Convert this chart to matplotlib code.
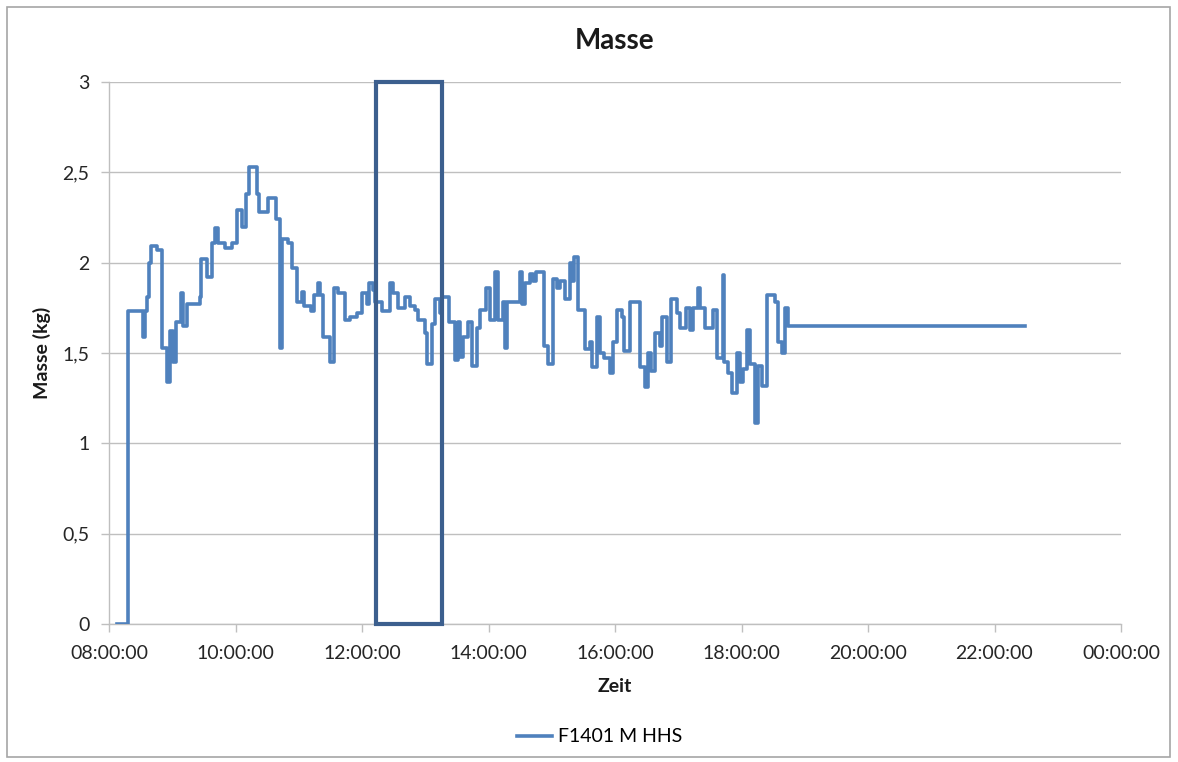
import matplotlib
matplotlib.use("Agg")
import matplotlib.pyplot as plt
from matplotlib.patches import Rectangle
from matplotlib.ticker import FixedLocator, FuncFormatter

plt.rcParams['font.family'] = ['Lato', 'DejaVu Sans']

# Step changes of the logged mass: time (HH:MM) and value (kg) from that time on
times = ["08:08", "08:18", "08:32", "08:34", "08:36", "08:38", "08:40", "08:46",
         "08:50", "08:55", "08:58", "09:01", "09:04", "09:08", "09:10", "09:14",
         "09:26", "09:27", "09:33", "09:38", "09:41", "09:43", "09:50", "09:57",
         "10:01", "10:06", "10:10", "10:13", "10:20", "10:22", "10:31", "10:38",
         "10:42", "10:44", "10:50", "10:54", "10:58", "11:03", "11:05", "11:12",
         "11:14", "11:18", "11:20", "11:23", "11:30", "11:33", "11:37", "11:44",
         "11:49", "11:55", "12:00", "12:05", "12:07", "12:10", "12:12", "12:19",
         "12:27", "12:29", "12:34", "12:41", "12:46", "12:50", "12:53", "13:00",
         "13:02", "13:06", "13:09", "13:14", "13:16", "13:23", "13:28", "13:31",
         "13:33", "13:36", "13:41", "13:44", "13:49", "13:52", "13:58", "14:01",
         "14:06", "14:09", "14:14", "14:16", "14:18", "14:30", "14:32", "14:35",
         "14:39", "14:42", "14:45", "14:53", "14:56", "15:01", "15:05", "15:08",
         "15:13", "15:17", "15:19", "15:21", "15:25", "15:32", "15:36", "15:38",
         "15:43", "15:46", "15:50", "15:55", "15:58", "16:02", "16:07", "16:09",
         "16:14", "16:24", "16:28", "16:31", "16:34", "16:38", "16:43", "16:45",
         "16:49", "16:53", "16:59", "17:02", "17:07", "17:11", "17:14", "17:19",
         "17:21", "17:25", "17:33", "17:37", "17:42", "17:43", "17:47", "17:51",
         "17:56", "17:59", "18:01", "18:05", "18:08", "18:13", "18:16", "18:19",
         "18:24", "18:32", "18:35", "18:38", "18:41", "18:44", "22:29"]
masse = [0.00, 1.73, 1.59, 1.73, 1.81, 2.00, 2.09, 2.07,
         1.53, 1.34, 1.62, 1.45, 1.67, 1.83, 1.65, 1.77,
         1.81, 2.02, 1.92, 2.11, 2.19, 2.11, 2.08, 2.11,
         2.29, 2.20, 2.38, 2.53, 2.38, 2.28, 2.36, 2.24,
         1.53, 2.13, 2.11, 1.97, 1.78, 1.84, 1.76, 1.73,
         1.82, 1.89, 1.82, 1.59, 1.45, 1.86, 1.83, 1.68,
         1.70, 1.72, 1.83, 1.77, 1.89, 1.85, 1.78, 1.73,
         1.89, 1.83, 1.75, 1.81, 1.76, 1.74, 1.68, 1.61,
         1.44, 1.66, 1.80, 1.72, 1.81, 1.67, 1.46, 1.67,
         1.48, 1.59, 1.67, 1.43, 1.64, 1.74, 1.86, 1.68,
         1.95, 1.68, 1.78, 1.53, 1.78, 1.95, 1.77, 1.89,
         1.94, 1.90, 1.95, 1.54, 1.44, 1.91, 1.86, 1.90,
         1.80, 2.00, 1.90, 2.03, 1.74, 1.52, 1.56, 1.42,
         1.70, 1.50, 1.47, 1.39, 1.56, 1.74, 1.70, 1.51,
         1.78, 1.42, 1.31, 1.50, 1.40, 1.61, 1.54, 1.70,
         1.45, 1.80, 1.72, 1.64, 1.75, 1.63, 1.75, 1.86,
         1.75, 1.64, 1.74, 1.47, 1.93, 1.45, 1.39, 1.28,
         1.50, 1.34, 1.41, 1.63, 1.44, 1.11, 1.43, 1.32,
         1.82, 1.78, 1.56, 1.50, 1.75, 1.65, 1.65]

series_label = "F1401 M HHS"
window_start, window_end = "12:13", "13:16"
x_ticks = [8, 10, 12, 14, 16, 18, 20, 22, 24]
y_ticks = [0, 0.5, 1, 1.5, 2, 2.5, 3]


def to_hours(t):
    h, m = t.split(":")
    return int(h) + int(m) / 60.0


hours = [to_hours(t) for t in times]

fig = plt.figure(figsize=(11.78, 7.62), dpi=100)
ax = fig.add_axes([109 / 1178, 1 - 624 / 762, (1121 - 109) / 1178, (624 - 82) / 762])

line_color = "#4F81BD"
ax.step(hours, masse, where="post", color=line_color, lw=2.6, label=series_label,
        zorder=3)

# highlighted time window
ws, we = to_hours(window_start), to_hours(window_end)
ax.add_patch(Rectangle((ws, 0), we - ws, 3, fill=False, edgecolor="#3C5F8E",
                       lw=3.0, zorder=4, clip_on=False))

ax.set_xlim(8, 24)
ax.set_ylim(0, 3)
ax.xaxis.set_major_locator(FixedLocator(x_ticks))
ax.xaxis.set_major_formatter(FuncFormatter(lambda v, p: f"{int(v) % 24:02d}:00:00"))
ax.yaxis.set_major_locator(FixedLocator(y_ticks))
ax.yaxis.set_major_formatter(FuncFormatter(lambda v, p: f"{v:g}".replace(".", ",")))

ax.grid(axis="y", color="#BFBFBF", lw=1.0)
ax.set_axisbelow(True)
for s in ["top", "right"]:
    ax.spines[s].set_visible(False)
for s in ["left", "bottom"]:
    ax.spines[s].set_color("#BFBFBF")
    ax.spines[s].set_linewidth(1.0)
ax.tick_params(axis="both", colors="#BFBFBF", length=6, width=1.0,
               labelcolor="#262626", labelsize=14)
ax.tick_params(axis="x", pad=9)
ax.tick_params(axis="y", pad=8)

ax.set_title("Masse", fontsize=20, fontweight="bold", pad=24, color="#1a1a1a")
ax.set_xlabel("Zeit", fontsize=14, fontweight="bold", labelpad=12, color="#1a1a1a")
ax.set_ylabel("Masse (kg)", fontsize=14, fontweight="bold", labelpad=8, color="#1a1a1a")

leg = fig.legend(loc="center", bbox_to_anchor=(600 / 1178, 1 - 737 / 762),
                 frameon=False, fontsize=14, handlelength=1.8, handletextpad=0.3)

# outer chart frame
fig.add_artist(Rectangle((7 / 1178, 5 / 762), 1163 / 1178, 750 / 762,
                         transform=fig.transFigure, fill=False,
                         edgecolor="#A6A6A6", lw=1.2))

fig.savefig("out.png", dpi=100, facecolor="white")
